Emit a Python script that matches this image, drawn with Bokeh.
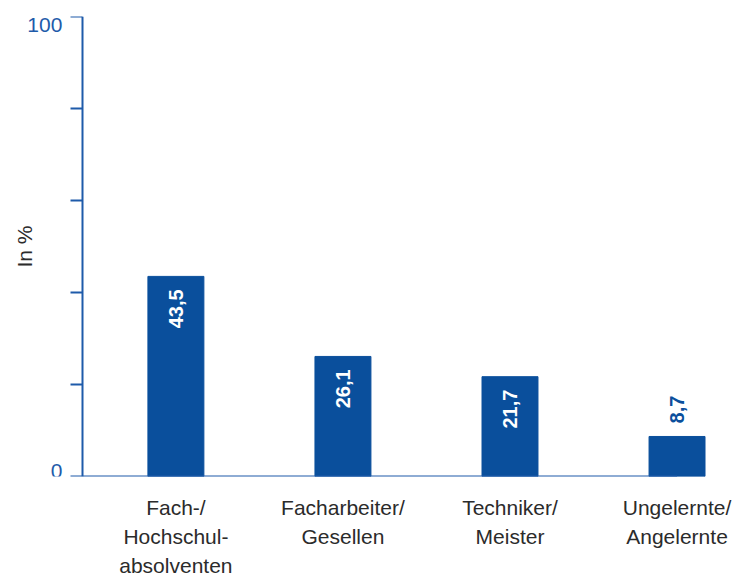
from bokeh.plotting import figure
from bokeh.models import ColumnDataSource, FixedTicker, Range1d
from bokeh.embed import file_html
from bokeh.resources import INLINE
from bokeh.core.properties import value

# Qualification groups and their shares in percent
categories = ["Fach-/\nHochschul-\nabsolventen", "Facharbeiter/\nGesellen",
              "Techniker/\nMeister", "Ungelernte/\nAngelernte"]
shares = [43.5, 26.1, 21.7, 8.7]
y_ticks = [0, 20, 40, 60, 80, 100]
y_label_values = [0, 100]
y_label_texts = ["0", "100"]

BAR = "#0A4F9C"
AXIS = "#1E5BAA"
TEXT = "#2B2B2B"
FONT = "Liberation Sans"

X_START, X_END = -1.05, 3.35
AXIS_X = -0.56  # where the value axis stands, left of the first bar

xs = list(range(len(categories)))
inside = [v >= 15 for v in shares]
src = ColumnDataSource(dict(
    x=xs,
    top=shares,
    label=[f"{v:.1f}".replace(".", ",") for v in shares],
    color=["white" if i else BAR for i in inside],
    align=["right" if i else "left" for i in inside],
    yoff=[13 if i else -13 for i in inside],
))

p = figure(frame_width=735, frame_height=460, output_backend="svg",
           toolbar_location=None,
           x_range=Range1d(X_START, X_END), y_range=Range1d(0, 100),
           min_border_left=0, min_border_top=16, min_border_right=0,
           min_border_bottom=0)
p.outline_line_color = None
p.xgrid.visible = False
p.ygrid.visible = False

p.vbar(x="x", top="top", width=0.335, source=src, color=BAR)

# baseline running from the axis to the last bar
p.segment(x0=[AXIS_X], y0=[0], x1=[xs[-1]], y1=[0], line_color=AXIS, line_width=2)

p.text(x="x", y="top", text="label", source=src, angle=1.5708,
       text_align="align", text_baseline="middle", y_offset="yoff",
       text_color="color", text_font=value(FONT), text_font_size="20px",
       text_font_style="bold")

# end labels of the value axis: "0" sits above its tick, "100" below its tick
p.text(x=[AXIS_X, AXIS_X], y=y_label_values, text=y_label_texts,
       x_offset=-20, y_offset=[1, 1], text_align="right",
       text_baseline=["bottom", "top"], text_color=AXIS,
       text_font=value(FONT), text_font_size="21px")

# y axis placed inside the frame
ya = p.yaxis[0]
ya.fixed_location = AXIS_X
ya.ticker = FixedTicker(ticks=y_ticks)
ya.major_label_overrides = {t: "" for t in y_ticks}
ya.axis_line_color = AXIS
ya.axis_line_width = 2
ya.major_tick_line_color = AXIS
ya.major_tick_line_width = 2
ya.major_tick_in = 0
ya.major_tick_out = 12
ya.minor_tick_line_color = None
ya.major_label_standoff = 8
ya.axis_label = "In %"
ya.axis_label_text_font = FONT
ya.axis_label_text_font_style = "normal"
ya.axis_label_text_font_size = "21px"
ya.axis_label_text_color = TEXT
ya.axis_label_standoff = 35

# x axis with category names
xa = p.xaxis[0]
xa.ticker = FixedTicker(ticks=xs)
xa.major_label_overrides = {i: c for i, c in enumerate(categories)}
xa.axis_line_color = None
xa.major_tick_line_color = None
xa.minor_tick_line_color = None
xa.major_label_standoff = 13
xa.major_label_text_font = FONT
xa.major_label_text_font_size = "21px"
xa.major_label_text_color = TEXT
xa.major_label_text_line_height = 1.27

open("out.html", "w").write(file_html(p, INLINE))
